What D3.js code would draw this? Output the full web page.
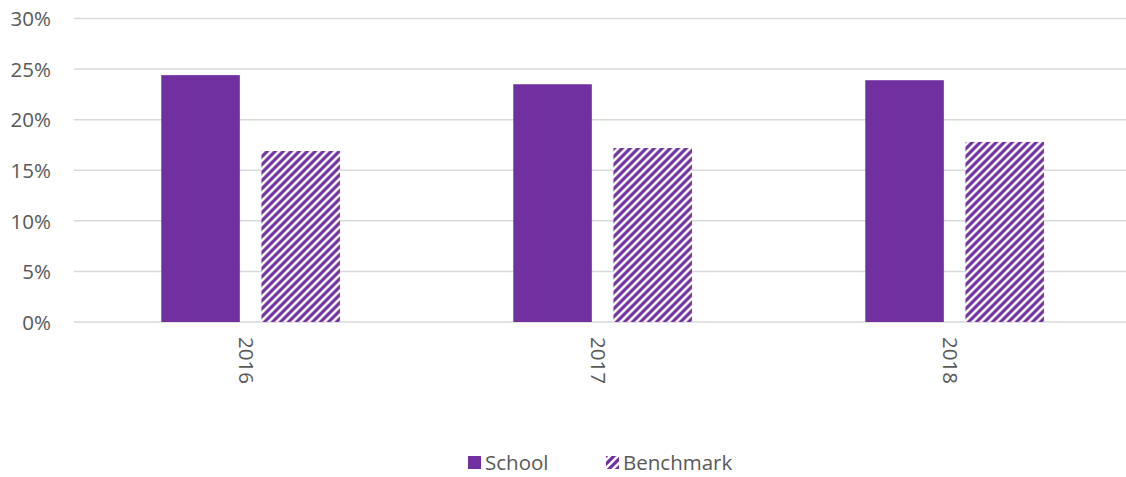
<!DOCTYPE html>
<html>
<head>
<meta charset="utf-8">
<script src="https://cdn.jsdelivr.net/npm/d3@7"></script>
<style>
html,body{margin:0;padding:0;background:#fff;}
svg{display:block;font-family:"Open Sans",sans-serif;}
</style>
</head>
<body>
<svg id="chart" width="1126" height="477"></svg>
<script>
const categories = ["2016", "2017", "2018"];
const seriesNames = ["School", "Benchmark"];
const schoolValues = [0.244, 0.235, 0.239];
const benchmarkValues = [0.169, 0.172, 0.178];
const yTicks = [0, 0.05, 0.10, 0.15, 0.20, 0.25, 0.30];

const purple = "#7030A0";
const textColor = "#595959";
const gridColor = "#D9D9D9";
const fontSize = 20.5;

const svg = d3.select("#chart");
const defs = svg.append("defs");
const pat = defs.append("pattern")
  .attr("id", "hatch").attr("patternUnits", "userSpaceOnUse")
  .attr("width", 8).attr("height", 8);
pat.append("rect").attr("width", 8).attr("height", 8).attr("fill", "#fff");
pat.append("path")
  .attr("d", "M-2,2 L2,-2 M0,8 L8,0 M6,10 L10,6")
  .attr("stroke", purple).attr("stroke-width", 3.1);

const y = d3.scaleLinear().domain([0, 0.30]).range([322, 18.5]);
const x0 = d3.scaleBand().domain(categories).range([74.5, 1130.5]).paddingInner(0).paddingOuter(0);
const step = x0.step();
const x1 = d3.scaleBand().domain(seriesNames).range([0.2465 * step, 0.7543 * step]).paddingInner(0.216).paddingOuter(0);

// y axis labels
const yAxis = d3.axisLeft(y).tickValues(yTicks).tickFormat(d3.format(".0%")).tickSize(0).tickPadding(0);
const gAxis = svg.append("g").attr("transform", "translate(51,0)").call(yAxis);
gAxis.select(".domain").remove();
gAxis.selectAll("text").attr("fill", textColor).attr("font-size", fontSize).attr("font-family", "Open Sans").attr("dy", "0.35em");

// gridlines
svg.append("g").selectAll("line").data(yTicks).join("line")
  .attr("x1", 74).attr("x2", 1126)
  .attr("y1", d => y(d)).attr("y2", d => y(d))
  .attr("stroke", gridColor).attr("stroke-width", 1.5);

const data = categories.map((c, i) => ({cat: c, vals: [
  {s: "School", v: schoolValues[i]},
  {s: "Benchmark", v: benchmarkValues[i]}
]}));

const groups = svg.append("g").selectAll("g").data(data).join("g")
  .attr("transform", d => `translate(${x0(d.cat)},0)`);
groups.selectAll("rect").data(d => d.vals).join("rect")
  .attr("x", d => x1(d.s))
  .attr("width", x1.bandwidth())
  .attr("y", d => y(d.v))
  .attr("height", d => y(0) - y(d.v))
  .attr("fill", d => d.s === "School" ? purple : "url(#hatch)");

// x-axis labels (rotated)
const xAxis = d3.axisBottom(x0).tickSize(0).tickPadding(0);
const gx = svg.append("g").attr("transform", "translate(0,322)").call(xAxis);
gx.select(".domain").remove();
gx.selectAll("text")
  .attr("fill", textColor).attr("font-size", fontSize).attr("font-family", "Open Sans")
  .attr("text-anchor", "start")
  .attr("transform", "translate(-4.5,15) rotate(90)")
  .attr("x", 0).attr("y", 0).attr("dy", "0.35em");

// legend
const legendItems = [
  {name: "School", fill: purple, x: 468},
  {name: "Benchmark", fill: "url(#hatch)", x: 606}
];
const lg = svg.append("g").selectAll("g").data(legendItems).join("g")
  .attr("transform", d => `translate(${d.x},456)`);
lg.append("rect").attr("width", 13).attr("height", 13).attr("fill", d => d.fill);
lg.append("text").attr("x", 17).attr("y", 6.5).attr("dy", "0.35em")
  .attr("fill", textColor).attr("font-size", fontSize).attr("font-family", "Open Sans")
  .text(d => d.name);
</script>
</body>
</html>
